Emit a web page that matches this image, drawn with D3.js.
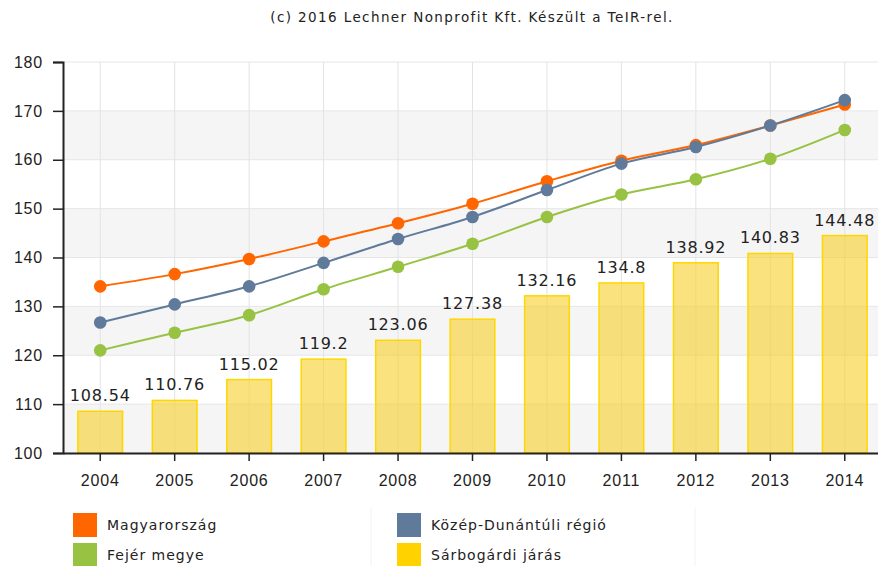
<!DOCTYPE html>
<html>
<head>
<meta charset="utf-8">
<script src="https://cdn.jsdelivr.net/npm/d3@7"></script>
<style>
  body { margin: 0; background: #fff; }
  svg { display: block; font-family: "DejaVu Sans", Verdana, sans-serif; }
</style>
</head>
<body>
<svg id="chart"></svg>
<script>
// --------------------------------------------------------------------------------------
// data
// --------------------------------------------------------------------------------------
var years = ["2004", "2005", "2006", "2007", "2008", "2009", "2010", "2011", "2012", "2013", "2014"];
var y_ticks = [100, 110, 120, 130, 140, 150, 160, 170, 180];

var sarbogard = [108.54, 110.76, 115.02, 119.2, 123.06, 127.38, 132.16, 134.8, 138.92, 140.83, 144.48];
var magyarorszag = [134.1, 136.6, 139.7, 143.3, 147.0, 151.0, 155.6, 159.8, 163.0, 167.0, 171.3];
var kozep_dunantul = [126.7, 130.4, 134.1, 138.9, 143.8, 148.3, 153.8, 159.2, 162.6, 167.0, 172.2];
var fejer = [121.0, 124.6, 128.2, 133.5, 138.1, 142.8, 148.3, 152.9, 156.0, 160.2, 166.1];

var series_names = ["Magyarország", "Közép-Dunántúli régió", "Fejér megye", "Sárbogárdi járás"];
var title = "(c) 2016 Lechner Nonprofit Kft. Készült a TeIR-rel.";

// --------------------------------------------------------------------------------------
var W = 878, H = 566;
var margin = {top: 62, right: -4, bottom: 113, left: 63};
var width = W - margin.left - margin.right;
var height = H - margin.top - margin.bottom;

var colors = {
  orange: "#ff6600",
  blue: "#5f7a9a",
  green: "#97c242",
  yellow: "#ffd200"
};

var svg = d3.select("#chart").attr("width", W).attr("height", H);

// ==================================================
// title
svg.append("text")
   .attr("x", 472)
   .attr("y", 22)
   .attr("text-anchor", "middle")
   .style("font-size", "13.5px")
   .style("letter-spacing", "1.4px")
   .style("fill", "#222")
   .text(title);

var g = svg.append("g")
           .attr("transform", "translate(" + margin.left + "," + margin.top + ")");

// set the ranges - outer padding half of inner so the bars sit centred in each slot
var x = d3.scaleBand().domain(years).range([0, width]).paddingInner(0.4).paddingOuter(0.2);
var y = d3.scaleLinear().domain([100, 180]).range([height, 0]);
var xc = function(i) { return x(years[i]) + x.bandwidth() / 2; };

// ==================================================
// alternating background bands
g.selectAll(".band")
 .data(y_ticks.slice(0, -1).filter(function(d, i) { return i % 2 == 0; }))
 .enter()
 .append("rect")
 .attr("x", 0)
 .attr("width", width)
 .attr("y", function(d) { return y(d + 10); })
 .attr("height", function(d) { return y(d) - y(d + 10); })
 .style("fill", "#f5f5f5");

// horizontal grid
g.selectAll(".hgrid")
 .data(y_ticks)
 .enter()
 .append("line")
 .attr("x1", 0).attr("x2", width)
 .attr("y1", function(d) { return y(d); })
 .attr("y2", function(d) { return y(d); })
 .style("stroke", "#e6e6e6");

// vertical grid at category centres
g.selectAll(".vgrid")
 .data(years)
 .enter()
 .append("line")
 .attr("x1", function(d, i) { return xc(i); })
 .attr("x2", function(d, i) { return xc(i); })
 .attr("y1", 0).attr("y2", height)
 .style("stroke", "#e3e3e3");

// ==================================================
// bars
g.selectAll(".bar")
 .data(sarbogard)
 .enter()
 .append("rect")
 .attr("class", "bar")
 .attr("x", function(d, i) { return x(years[i]); })
 .attr("width", x.bandwidth())
 .attr("y", function(d) { return y(d); })
 .attr("height", function(d) { return y(100) - y(d); })
 .style("fill", "rgba(246, 208, 40, 0.6)")
 .style("stroke", "#ffd700")
 .style("stroke-width", 1.5);

g.selectAll(".bar_label")
 .data(sarbogard)
 .enter()
 .append("text")
 .attr("x", function(d, i) { return xc(i); })
 .attr("y", function(d) { return y(d) - 10; })
 .attr("text-anchor", "middle")
 .style("font-size", "16px")
 .style("letter-spacing", "0.8px")
 .style("fill", "#222")
 .text(function(d) { return d; });

// ==================================================
// lines with markers
var lines = [
  {values: magyarorszag, color: colors.orange},
  {values: kozep_dunantul, color: colors.blue},
  {values: fejer, color: colors.green}
];

var line = d3.line()
             .x(function(d, i) { return xc(i); })
             .y(function(d) { return y(d); })
             .curve(d3.curveMonotoneX);

lines.forEach(function(s) {
  g.append("path")
   .datum(s.values)
   .attr("d", line)
   .style("fill", "none")
   .style("stroke", s.color)
   .style("stroke-width", 2);

  g.selectAll(null)
   .data(s.values)
   .enter()
   .append("circle")
   .attr("cx", function(d, i) { return xc(i); })
   .attr("cy", function(d) { return y(d); })
   .attr("r", 6.3)
   .style("fill", s.color);
});

// ==================================================
// axes
var y_axis = g.append("g")
              .call(d3.axisLeft(y).tickValues(y_ticks).tickSize(10).tickPadding(10));
y_axis.select(".domain").style("stroke", "#222").style("stroke-width", 2);
y_axis.selectAll("line").style("stroke", "#222").style("stroke-width", 1.5);
y_axis.selectAll("text")
      .style("font-size", "16px")
      .style("letter-spacing", "0.8px")
      .style("fill", "#222")
      .attr("font-family", null);

var x_axis = g.append("g")
              .attr("transform", "translate(0," + height + ")")
              .call(d3.axisBottom(x).tickSize(8).tickPadding(14).tickSizeOuter(0));
x_axis.select(".domain").style("stroke", "#222").style("stroke-width", 2);
x_axis.selectAll("line").style("stroke", "#222").style("stroke-width", 1.5);
x_axis.selectAll("text")
      .style("font-size", "16px")
      .style("letter-spacing", "0.8px")
      .style("fill", "#222")
      .attr("font-family", null);

// ==================================================
// legend
var legend_items = [
  {name: series_names[0], color: colors.orange, x: 73, y: 513},
  {name: series_names[1], color: colors.blue, x: 397, y: 513},
  {name: series_names[2], color: colors.green, x: 73, y: 543},
  {name: series_names[3], color: colors.yellow, x: 397, y: 543}
];

[371, 695].forEach(function(lx) {
  svg.append("line")
     .attr("x1", lx).attr("x2", lx)
     .attr("y1", 508).attr("y2", 566)
     .style("stroke", "#f2f2f2");
});

var legend = svg.selectAll(".legend")
                .data(legend_items)
                .enter()
                .append("g")
                .attr("transform", function(d) { return "translate(" + d.x + "," + d.y + ")"; });

legend.append("rect")
      .attr("width", 24)
      .attr("height", 24)
      .style("fill", function(d) { return d.color; });

legend.append("text")
      .attr("x", 34)
      .attr("y", 17)
      .style("font-size", "14px")
      .style("letter-spacing", "1px")
      .style("fill", "#222")
      .text(function(d) { return d.name; });
</script>
</body>
</html>
